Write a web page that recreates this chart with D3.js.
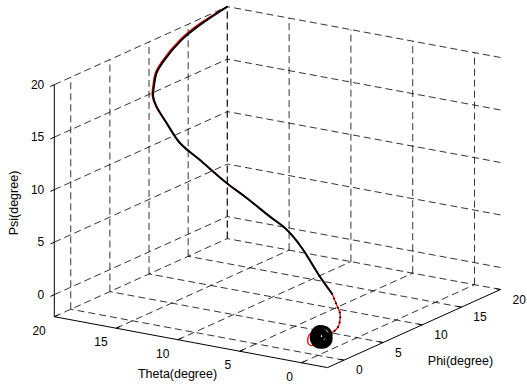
<!DOCTYPE html>
<html>
<head>
<meta charset="utf-8">
<script src="https://cdn.jsdelivr.net/npm/d3@7"></script>
<style>
  html, body { margin: 0; padding: 0; background: #fff; }
  svg { display: block; }
  text { font-family: "Liberation Sans", Arial, Helvetica, sans-serif; fill: #000; }
</style>
</head>
<body>
<svg id="chart" width="527" height="384"></svg>
<script>
// ---- axis limits and ticks ----
const thetaDomain = [-2.1, 20];
const phiDomain = [-2.1, 20];
const psiDomain = [-2.1, 20];
const thetaTicks = [0, 5, 10, 15, 20];
const phiTicks = [0, 5, 10, 15, 20];
const psiTicks = [0, 5, 10, 15, 20];

// ---- reference attitude trajectory (red) ----
const refTheta = [20, 19.98, 19.78, 19.48, 19.18, 18.78, 18.28, 17.68, 16.28, 14.6, 12.8, 10.5, 8.8, 6.8, 5.5, 4.75, 3.9, 2.5, 1.5, 1.0, 0.6, 0.4, 0.2, 0.1, 0.05,
                  0.4, 0.7, 0.75, 0.5, 0.2, 0.1, 0.5, 0.55, 0.3];
const refPhi   = [20, 16.34, 13.69, 10.87, 9.55, 8.57, 7.69, 7.18, 6.25, 5.42, 5.14, 4.91, 4.79, 4.60, 4.47, 4.34, 4.28, 4.20, 4.12, 3.97, 3.76, 3.44, 2.91, 2.11, 1.39,
                  0.9, 0.2, -0.1, -0.4, -0.3, 0.2, 0.3, 0.0, 0.1];
const refPsi   = [20, 19.57, 19.08, 18.02, 17.46, 16.57, 16.02, 15.37, 14.44, 13.10, 11.97, 10.36, 9.35, 8.07, 7.32, 6.70, 5.64, 3.43, 2.10, 1.14, 0.51, 0.02, -0.39, -0.58, -0.48,
                  -0.1, -0.2, -0.6, -1.0, -1.1, -0.8, -0.4, -0.7, -0.6];

// ---- actual attitude trajectory (black) ----
const actTheta = [20, 19.9, 19.7, 19.4, 19.1, 18.7, 18.2, 17.6, 16.2, 14.6, 12.8, 10.5, 8.8, 6.8, 5.5, 4.75, 3.9, 2.5, 1.5, 1.0, 0.6, 0.4, 0.2, 0.1, 0.05];
const actPhi   = [20, 16.34, 13.69, 10.87, 9.55, 8.57, 7.69, 7.18, 6.25, 5.42, 5.14, 4.91, 4.79, 4.60, 4.47, 4.34, 4.28, 4.20, 4.12, 3.97, 3.76, 3.44, 2.91, 2.11, 1.39];
const actPsi   = [20, 19.51, 19.02, 17.96, 17.40, 16.51, 15.96, 15.31, 14.38, 13.10, 11.97, 10.36, 9.35, 8.07, 7.32, 6.70, 5.64, 3.43, 2.10, 1.14, 0.51, 0.02, -0.39, -0.58, -0.48];

// ---- actual trajectory settling around the origin (black) ----
const settleTheta = [0.1, -0.3, -0.4, -0.2, 0.2, 0.4, 0.3, 0.1, -0.2, -0.4, -0.4, -0.2, 0.2,
                     0.3, 0.2, -0.1, -0.3, -0.2, 0.1, 0.2, 0.0, -0.2, 0.0, 0.05, 0.0];
const settlePhi   = [1.82, 0.93, 0.01, -0.57, -0.45, -0.14, 0.22, 0.80, 1.09, 1.03, 0.52, -0.06, -0.20,
                     -0.04, 0.57, 0.86, 0.68, 0.20, 0.03, 0.19, 0.51, 0.45, 0.26, 0.21, 0.38];
const settlePsi   = [-1.08, -1.27, -1.22, -0.97, -0.63, -0.11, 0.37, 0.31, -0.01, -0.52, -0.92, -0.96, -0.62,
                     -0.03, 0.08, -0.24, -0.70, -0.85, -0.58, -0.17, -0.14, -0.46, -0.63, -0.34, -0.39];

// ---- 3-D box placement on the page ----
const corner = [327.5, 367.6];    // theta = phi = psi = minimum
const thetaEnd = [54.3, 316.7];   // theta at maximum along the floor
const phiEnd = [500.5, 289.5];    // phi at maximum along the floor
const psiHeight = 232;

const sTheta = d3.scaleLinear().domain(thetaDomain).range([0, 1]);
const sPhi = d3.scaleLinear().domain(phiDomain).range([0, 1]);
const sPsi = d3.scaleLinear().domain(psiDomain).range([0, psiHeight]);

function proj(t, p, s) {
  const a = sTheta(t), b = sPhi(p);
  return [
    corner[0] + a * (thetaEnd[0] - corner[0]) + b * (phiEnd[0] - corner[0]),
    corner[1] + a * (thetaEnd[1] - corner[1]) + b * (phiEnd[1] - corner[1]) - sPsi(s)
  ];
}

const svg = d3.select("#chart");
svg.append("rect").attr("width", 527).attr("height", 384).attr("fill", "#fff");

const tMin = thetaDomain[0], tMax = thetaDomain[1];
const pMin = phiDomain[0], pMax = phiDomain[1];
const zMin = psiDomain[0], zMax = psiDomain[1];

// ---- dashed grid on the floor and the two back walls ----
const grid = [];
thetaTicks.forEach(v => {
  grid.push([[v, pMin, zMin], [v, pMax, zMin]]);     // floor
  grid.push([[v, pMax, zMin], [v, pMax, zMax]]);     // back wall phi = max
});
phiTicks.forEach(v => {
  grid.push([[tMin, v, zMin], [tMax, v, zMin]]);     // floor
  grid.push([[tMax, v, zMin], [tMax, v, zMax]]);     // back wall theta = max
});
psiTicks.forEach(v => {
  grid.push([[tMax, pMin, v], [tMax, pMax, v]]);     // wall theta = max
  grid.push([[tMin, pMax, v], [tMax, pMax, v]]);     // wall phi = max
});

const gGrid = svg.append("g");
grid.forEach(seg => {
  const a = proj(...seg[0]), b = proj(...seg[1]);
  gGrid.append("line")
    .attr("x1", a[0]).attr("y1", a[1]).attr("x2", b[0]).attr("y2", b[1])
    .attr("stroke", "#000").attr("stroke-width", 0.8)
    .attr("stroke-dasharray", "7,4");
});

// ---- axis lines and ticks ----
const gAxes = svg.append("g").attr("stroke", "#000").attr("stroke-width", 1).attr("fill", "none");
function seg3(g, p1, p2) {
  const a = proj(...p1), b = proj(...p2);
  g.append("line").attr("x1", a[0]).attr("y1", a[1]).attr("x2", b[0]).attr("y2", b[1]);
}
seg3(gAxes, [tMin, pMin, zMin], [tMax, pMin, zMin]);   // theta axis
seg3(gAxes, [tMin, pMin, zMin], [tMin, pMax, zMin]);   // phi axis
seg3(gAxes, [tMax, pMin, zMin], [tMax, pMin, zMax]);   // psi axis
thetaTicks.forEach(v => seg3(gAxes, [v, pMin, zMin], [v, pMin + 0.5, zMin]));
phiTicks.forEach(v => seg3(gAxes, [tMin, v, zMin], [tMin + 0.35, v, zMin]));
psiTicks.forEach(v => seg3(gAxes, [tMax, pMin, v], [tMax, pMin - 0.5, v]));

// ---- trajectories ----
const line3 = d3.line()
  .x(d => proj(d[0], d[1], d[2])[0])
  .y(d => proj(d[0], d[1], d[2])[1])
  .curve(d3.curveCatmullRom.alpha(0.5));

const refPts = refTheta.map((t, i) => [t, refPhi[i], refPsi[i]]);
const actPts = actTheta.map((t, i) => [t, actPhi[i], actPsi[i]]);
const settlePts = [actPts[actPts.length - 1]].concat(settleTheta.map((t, i) => [t, settlePhi[i], settlePsi[i]]));

svg.append("path").attr("d", line3(refPts))
  .attr("fill", "none").attr("stroke", "#ff0000").attr("stroke-width", 1.3);

// slow part of the response: dense samples read as a solid line
svg.append("path").attr("d", line3(actPts.slice(0, 19)))
  .attr("fill", "none").attr("stroke", "#000").attr("stroke-width", 2);
// fast part: sparse samples
svg.append("path").attr("d", line3(actPts.slice(18)))
  .attr("fill", "none").attr("stroke", "#000").attr("stroke-width", 2)
  .attr("stroke-dasharray", "1.5,3.5");
// settling cluster
svg.append("path").attr("d", line3(settlePts))
  .attr("fill", "none").attr("stroke", "#000").attr("stroke-width", 3.4)
  .attr("stroke-linejoin", "round");

// ---- tick labels ----
const gText = svg.append("g").style("font-size", "12px");
psiTicks.forEach(v => {
  const p = proj(tMax, pMin, v);
  gText.append("text").attr("x", p[0] - 10).attr("y", p[1])
    .attr("text-anchor", "end").attr("dominant-baseline", "central").text(v);
});
thetaTicks.forEach(v => {
  const p = proj(v, pMin, zMin);
  gText.append("text").attr("x", p[0] - 8.5).attr("y", p[1] + 14)
    .attr("text-anchor", "end").attr("dominant-baseline", "central").text(v);
});
phiTicks.forEach(v => {
  const p = proj(tMin, v, zMin);
  gText.append("text").attr("x", p[0] + 12).attr("y", p[1] + 10.2)
    .attr("text-anchor", "start").attr("dominant-baseline", "central").text(v);
});

// ---- axis titles ----
const gTitle = svg.append("g").style("font-size", "12.5px");
gTitle.append("text").attr("x", 177.5).attr("y", 373.5)
  .attr("text-anchor", "middle").attr("dominant-baseline", "central").text("Theta(degree)");
gTitle.append("text").attr("x", 460.5).attr("y", 361)
  .attr("text-anchor", "middle").attr("dominant-baseline", "central").text("Phi(degree)");
gTitle.append("text").attr("transform", "translate(13.5,203) rotate(-90)")
  .attr("text-anchor", "middle").attr("dominant-baseline", "central").text("Psi(degree)");
</script>
</body>
</html>
